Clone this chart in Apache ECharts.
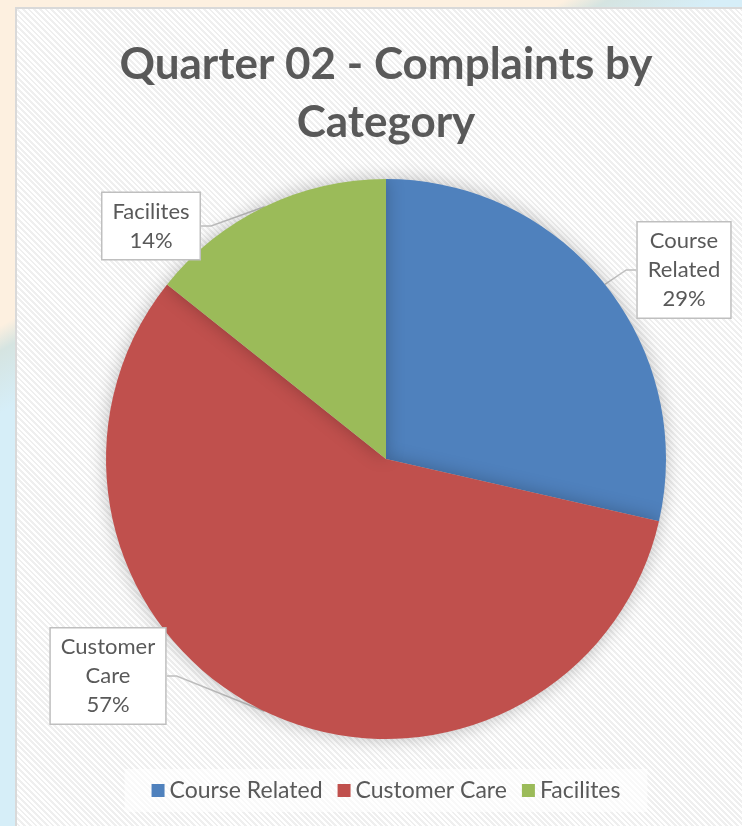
<!DOCTYPE html>
<html>
<head>
<meta charset="utf-8">
<script src="https://cdn.jsdelivr.net/npm/echarts@6/dist/echarts.min.js"></script>
<style>
  html, body {
    margin: 0;
    width: 742px;
    height: 826px;
    overflow: hidden;
  }
  body {
    position: relative;
    background: linear-gradient(150deg, #fdf0e0 0%, #fdf0e0 26%, #d5e4e1 28%, #d6eef8 33%, #d6eef8 100%);
  }
  #panel {
    position: absolute;
    left: 15px;
    top: 7px;
    width: 740px;
    height: 830px;
    border: 2px solid #d9d9d9;
    background: repeating-linear-gradient(45deg, #ffffff 0px, #ffffff 2px, #efefef 2px, #efefef 4px);
  }
  #chart {
    position: absolute;
    left: 15px;
    top: 0;
    width: 742px;
    height: 826px;
  }
</style>
</head>
<body>
<div id="panel"></div>
<div id="chart"></div>
<script>
var categories = ['Course Related', 'Customer Care', 'Facilites']
var counts = [2, 4, 1]
var colors = ['#4f81bd', '#c0504d', '#9bbb59']

// where the callout boxes sit (label centres, chart pixels)
var calloutSpots = [[669, 270], [93, 676], [136, 226]]

var pieData = categories.map(function(name, i) {
  return { name: name, value: counts[i], itemStyle: { color: colors[i] } }
})

var chart = echarts.init(document.getElementById('chart'))
chart.setOption({
  backgroundColor: 'transparent',
  textStyle: {
    fontFamily: 'Lato'
  },
  title: {
    text: 'Quarter 02 - Complaints by\nCategory',
    left: 'center',
    top: 31,
    textStyle: {
      fontFamily: 'Lato',
      fontSize: 44,
      fontWeight: 'bold',
      color: '#595959',
      lineHeight: 58
    }
  },
  legend: {
    data: categories,
    left: 'center',
    top: 769,
    icon: 'rect',
    itemWidth: 13,
    itemHeight: 13,
    itemGap: 15,
    padding: [10, 27],
    backgroundColor: 'rgba(255,255,255,0.6)',
    textStyle: {
      fontFamily: 'Lato',
      fontSize: 23,
      color: '#595959'
    }
  },
  series: [
    {
      type: 'pie',
      center: ['50%', 459],
      radius: 280,
      startAngle: 90,
      clockwise: true,
      data: pieData,
      itemStyle: {
        shadowBlur: 18,
        shadowColor: 'rgba(0,0,0,0.25)'
      },
      emphasis: { disabled: true },
      label: {
        position: 'outside',
        formatter: function(p) {
          return p.name.replace(' ', '\n') + '\n' + Math.round(p.percent) + '%'
        },
        fontFamily: 'Lato',
        fontSize: 22,
        color: '#595959',
        lineHeight: 29,
        align: 'center',
        backgroundColor: '#ffffff',
        borderColor: '#bfbfbf',
        borderWidth: 1.5,
        padding: [4, 10]
      },
      labelLine: {
        show: true,
        length: 10,
        length2: 10,
        lineStyle: {
          color: '#bfbfbf',
          width: 1.5
        }
      },
      labelLayout: function(params) {
        var spot = calloutSpots[params.dataIndex]
        return {
          x: spot[0],
          y: spot[1],
          align: 'center',
          verticalAlign: 'middle'
        }
      }
    }
  ]
})
</script>
</body>
</html>
